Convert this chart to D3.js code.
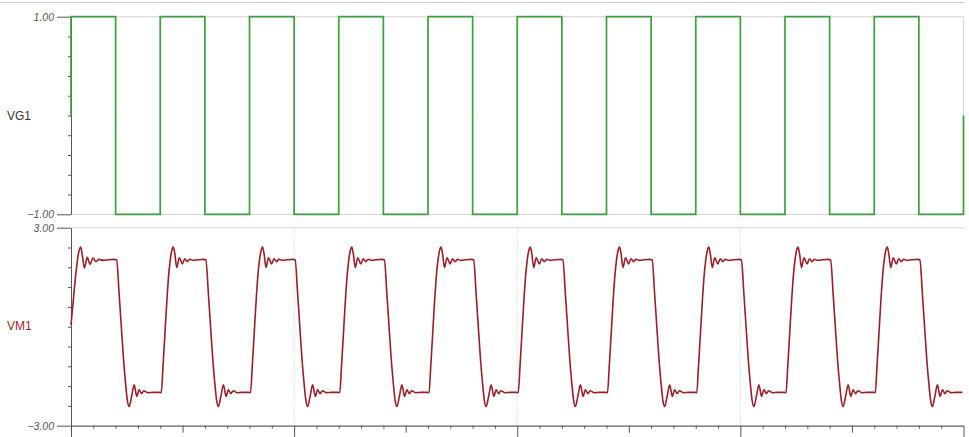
<!DOCTYPE html>
<html>
<head>
<meta charset="utf-8">
<script src="https://cdn.jsdelivr.net/npm/d3@7"></script>
<style>
  html, body { margin: 0; padding: 0; background: #fff; }
  svg { display: block; }
  text { font-family: "Liberation Sans", Arial, sans-serif; }
</style>
</head>
<body>
<svg id="chart" width="969" height="437"></svg>
<script>
// ---------- DATA ----------
// time axis (arbitrary units): major every 10, minor every 1
const xMajorTicks = [0, 10, 20, 30, 40];
const xMidTicks = [5, 15, 25, 35];
const xMinorTicks = [1,2,3,4,6,7,8,9,11,12,13,14,16,17,18,19,21,22,23,24,26,27,28,29,31,32,33,34,36,37,38,39];

const vg1Labels = [-1, 1];
const vg1MinorTicks = [-0.8, -0.6, -0.4, -0.2, 0, 0.2, 0.4, 0.6, 0.8];
const vm1Labels = [-3, 3];
const vm1MinorTicks = [-2.4, -1.8, -1.2, -0.6, 0, 0.6, 1.2, 1.8, 2.4];

// VG1 square wave (time, value)
const vg1Time  = [0,0, 2,2, 4,4, 6,6, 8,8, 10,10, 12,12, 14,14, 16,16, 18,18, 20,20,
                  22,22, 24,24, 26,26, 28,28, 30,30, 32,32, 34,34, 36,36, 38,38, 40,40];
const vg1Value = [0,1, 1,-1, -1,1, 1,-1, -1,1, 1,-1, -1,1, 1,-1, -1,1, 1,-1, -1,1,
                  1,-1, -1,1, 1,-1, -1,1, 1,-1, -1,1, 1,-1, -1,1, 1,-1, -1,0];

// VM1 response: shape after each edge (dt, value)
const vm1FirstRiseDt  = [0, 0.10, 0.25, 0.33, 0.435, 0.50, 0.60, 0.73, 0.85, 0.99, 1.12, 1.25, 1.45, 1.70, 1.95];
const vm1FirstRiseVal = [0.05, 0.78, 1.80, 2.20, 2.41, 2.20, 1.78, 2.10, 1.89, 2.08, 1.97, 2.04, 2.01, 2.03, 2.04];
const vm1RiseDt  = [0.045, 0.125, 0.215, 0.305, 0.36, 0.45, 0.515, 0.585, 0.655, 0.74, 0.85, 0.99, 1.10, 1.21, 1.32, 1.48, 1.70, 1.95];
const vm1RiseVal = [-2.00, -1.18, -0.15, 0.88, 1.42, 2.03, 2.30, 2.41, 2.20, 1.79, 2.09, 1.90, 2.06, 1.97, 2.04, 2.01, 2.03, 2.04];
const vm1FallDt  = [0.045, 0.16, 0.255, 0.355, 0.45, 0.53, 0.605, 0.72, 0.83, 0.95, 1.055, 1.165, 1.265, 1.435, 1.70, 1.95];
const vm1FallVal = [2.02, 0.97, 0.00, -1.00, -1.75, -2.25, -2.42, -2.10, -1.76, -2.11, -1.91, -2.03, -1.94, -2.00, -1.99, -1.99];
const vm1RiseEdges = [4, 8, 12, 16, 20, 24, 28, 32, 36];
const vm1FallEdges = [2, 6, 10, 14, 18, 22, 26, 30, 34, 38];

// ---------- BUILD SERIES ----------
const vg1 = vg1Time.map((t, i) => [t, vg1Value[i]]);
const vm1 = [];
vm1FirstRiseDt.forEach((d, i) => vm1.push([d, vm1FirstRiseVal[i]]));
const edges = [...vm1RiseEdges.map(e => ({e, type: "r"})), ...vm1FallEdges.map(e => ({e, type: "f"}))]
  .sort((a, b) => a.e - b.e);
edges.forEach(({e, type}) => {
  const dts = type === "r" ? vm1RiseDt : vm1FallDt;
  const vals = type === "r" ? vm1RiseVal : vm1FallVal;
  dts.forEach((d, i) => vm1.push([e + d, vals[i]]));
});

// ---------- LAYOUT ----------
const svg = d3.select("#chart");
const x = d3.scaleLinear().domain([0, 40]).range([71, 963.5]);
const yTop = d3.scaleLinear().domain([-1, 1]).range([214.3, 16.7]);
const yBot = d3.scaleLinear().domain([-3, 3]).range([425.7, 227.7]);

const gridColor = "#dcdcdc";
const axisColor = "#555";

// top border line
svg.append("line").attr("x1", 0).attr("x2", 965).attr("y1", 2.5).attr("y2", 2.5)
  .attr("stroke", "#d0d0d0").attr("stroke-width", 1.2);

// horizontal gridlines at labelled values
[[yTop, vg1Labels], [yBot, vm1Labels]].forEach(([ys, vals]) => {
  svg.append("g").selectAll("line").data(vals).join("line")
    .attr("x1", x(0)).attr("x2", x(40))
    .attr("y1", d => ys(d)).attr("y2", d => ys(d))
    .attr("stroke", gridColor).attr("stroke-width", 1.2);
});
// right border of top panel
svg.append("line").attr("x1", x(40)).attr("x2", x(40))
  .attr("y1", yTop(1)).attr("y2", yTop(-1)).attr("stroke", gridColor).attr("stroke-width", 1.2);

// dotted vertical gridlines in bottom panel
svg.append("g").selectAll("line").data([10, 20, 30]).join("line")
  .attr("x1", d => x(d)).attr("x2", d => x(d))
  .attr("y1", yBot(3)).attr("y2", yBot(-3))
  .attr("stroke", "#c8c8c8").attr("stroke-width", 1).attr("stroke-dasharray", "1,2");

function styleAxis(g, showDomain) {
  g.selectAll(".tick line").attr("stroke", axisColor);
  g.selectAll("path.domain").attr("stroke", showDomain ? axisColor : "none");
  g.selectAll(".tick text").attr("fill", "#555").style("font-size", "10.5px").style("font-style", "italic");
}

// y axes
function yAxes(ys, labels, minor) {
  const gMinor = svg.append("g").attr("transform", `translate(${x(0)},0)`)
    .call(d3.axisLeft(ys).tickValues(minor).tickSize(3).tickSizeOuter(0).tickFormat(""));
  styleAxis(gMinor, true);
  const gMaj = svg.append("g").attr("transform", `translate(${x(0)},0)`)
    .call(d3.axisLeft(ys).tickValues(labels).tickSize(14).tickSizeOuter(0).tickPadding(3).tickFormat(d3.format(".2f")));
  styleAxis(gMaj, false);
}
yAxes(yTop, vg1Labels, vg1MinorTicks);
yAxes(yBot, vm1Labels, vm1MinorTicks);

// x axis
const xb = yBot(-3);
const gx1 = svg.append("g").attr("transform", `translate(0,${xb})`)
  .call(d3.axisBottom(x).tickValues(xMinorTicks).tickSize(3).tickSizeOuter(0).tickFormat(""));
styleAxis(gx1, true);
const gx2 = svg.append("g").attr("transform", `translate(0,${xb})`)
  .call(d3.axisBottom(x).tickValues(xMidTicks).tickSize(7).tickSizeOuter(0).tickFormat(""));
styleAxis(gx2, false);
const gx3 = svg.append("g").attr("transform", `translate(0,${xb})`)
  .call(d3.axisBottom(x).tickValues(xMajorTicks).tickSize(12).tickSizeOuter(0).tickFormat(""));
styleAxis(gx3, false);

// series
svg.append("path").datum(vg1)
  .attr("d", d3.line().x(d => x(d[0])).y(d => yTop(d[1])))
  .attr("fill", "none").attr("stroke", "#3d9f3d").attr("stroke-width", 1.7);

svg.append("path").datum(vm1)
  .attr("d", d3.line().x(d => x(d[0])).y(d => yBot(d[1])).curve(d3.curveMonotoneX))
  .attr("fill", "none").attr("stroke", "#9a1f26").attr("stroke-width", 1.6);

// series labels
svg.append("text").attr("x", 7).attr("y", 120).text("VG1")
  .attr("fill", "#333").style("font-size", "12px");
svg.append("text").attr("x", 7).attr("y", 330).text("VM1")
  .attr("fill", "#a0282d").style("font-size", "12px");
</script>
</body>
</html>
